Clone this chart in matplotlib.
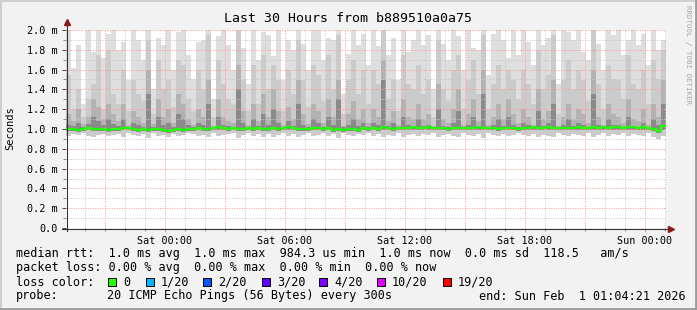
import matplotlib
matplotlib.use('Agg')
import matplotlib.pyplot as plt
from matplotlib.lines import Line2D
from matplotlib.patches import Rectangle
import numpy as np

plt.rcParams['font.family'] = ['DejaVu Sans Mono']

# time axis in hours relative to Sat 00:00, one column per 15 minutes
t_start = -4.93
col_hours = 0.25

# smoke layers (hundredths of a ms), 120 columns
smoke_top = [
    205, 162, 185, 125, 205, 178, 205, 172, 196, 205,
    180, 188, 150, 205, 190, 170, 205, 140, 192, 185,
    205, 160, 198, 205, 175, 150, 188, 190, 205, 130,
    194, 205, 185, 160, 205, 182, 145, 205, 170, 198,
    195, 174, 205, 150, 190, 180, 205, 186, 160, 205,
    205, 170, 192, 190, 205, 135, 176, 205, 185, 196,
    165, 205, 184, 205, 175, 192, 150, 205, 178, 190,
    205, 185, 195, 140, 205, 186, 170, 205, 194, 160,
    205, 182, 180, 205, 155, 196, 205, 190, 172, 205,
    175, 205, 188, 165, 205, 185, 192, 205, 145, 205,
    198, 190, 205, 178, 170, 205, 186, 160, 205, 195,
    205, 175, 190, 205, 185, 196, 165, 205, 180, 190,
]
smoke_mid = [
    155, 120, 140, 112, 130, 145, 175, 120, 180, 135,
    125, 160, 118, 150, 135, 128, 190, 115, 170, 140,
    150, 122, 170, 165, 130, 118, 160, 140, 195, 112,
    170, 145, 130, 125, 200, 150, 118, 165, 125, 175,
    140, 165, 150, 118, 160, 135, 190, 150, 122, 165,
    155, 128, 175, 140, 195, 115, 150, 170, 135, 160,
    125, 160, 145, 200, 130, 150, 118, 175, 145, 140,
    165, 135, 150, 112, 190, 140, 128, 160, 175, 120,
    150, 170, 135, 195, 120, 145, 165, 140, 160, 150,
    130, 160, 145, 125, 180, 140, 155, 195, 115, 150,
    170, 140, 160, 150, 128, 200, 145, 120, 165, 150,
    150, 130, 175, 145, 140, 160, 125, 170, 150, 180,
]
smoke_dark = [
    115, 108, 120, 105, 112, 130, 122, 110, 125, 115,
    108, 125, 104, 118, 112, 106, 160, 105, 130, 112,
    120, 106, 135, 125, 110, 104, 120, 112, 150, 103,
    130, 112, 108, 106, 165, 118, 104, 125, 108, 135,
    112, 140, 118, 104, 122, 110, 150, 115, 105, 125,
    118, 106, 130, 112, 150, 103, 115, 128, 110, 120,
    106, 120, 112, 170, 108, 118, 104, 130, 112, 110,
    125, 110, 115, 103, 145, 110, 106, 120, 140, 104,
    115, 130, 108, 160, 104, 112, 125, 110, 130, 115,
    106, 120, 112, 104, 140, 110, 118, 150, 103, 112,
    125, 110, 120, 115, 106, 160, 112, 104, 125, 115,
    112, 106, 130, 110, 108, 120, 104, 125, 112, 150,
]
smoke_darkest = [
    104, 103, 106, 102, 105, 112, 108, 104, 110, 105,
    103, 110, 102, 106, 104, 102, 135, 102, 112, 104,
    106, 102, 115, 110, 104, 102, 106, 104, 125, 102,
    112, 104, 103, 102, 140, 106, 102, 110, 103, 115,
    104, 120, 106, 102, 108, 103, 125, 104, 102, 110,
    106, 102, 112, 104, 130, 102, 104, 110, 103, 106,
    102, 106, 104, 150, 103, 106, 102, 112, 104, 103,
    110, 103, 104, 102, 120, 103, 102, 106, 118, 102,
    104, 112, 103, 135, 102, 104, 110, 103, 112, 104,
    102, 106, 104, 102, 118, 103, 106, 125, 102, 104,
    110, 103, 106, 104, 102, 135, 104, 102, 110, 104,
    104, 102, 112, 103, 102, 106, 102, 110, 104, 125,
]
smoke_low = [
    93, 95, 94, 96, 93, 92, 94, 95, 93, 94,
    95, 92, 96, 94, 93, 95, 91, 96, 93, 94,
    92, 95, 93, 94, 96, 95, 93, 94, 92, 96,
    93, 94, 95, 96, 91, 94, 96, 93, 95, 92,
    95, 92, 94, 96, 93, 95, 92, 94, 96, 93,
    94, 96, 93, 95, 91, 96, 94, 93, 95, 94,
    96, 93, 95, 92, 94, 93, 96, 92, 94, 95,
    93, 95, 94, 96, 92, 94, 95, 93, 92, 96,
    94, 93, 95, 91, 96, 94, 93, 95, 93, 94,
    96, 94, 93, 95, 92, 94, 93, 92, 96, 94,
    93, 95, 94, 93, 96, 92, 94, 96, 93, 95,
    94, 96, 93, 95, 94, 93, 96, 92, 90, 93,
]
smoke_low2 = [
    98, 98, 97, 98, 99, 98, 98, 98, 97, 98,
    98, 99, 99, 98, 97, 98, 97, 98, 98, 97,
    96, 97, 98, 97, 98, 98, 99, 98, 98, 99,
    99, 99, 98, 99, 98, 98, 99, 98, 99, 98,
    98, 99, 98, 99, 99, 99, 98, 98, 98, 99,
    99, 98, 99, 97, 98, 97, 98, 98, 97, 99,
    98, 99, 98, 99, 99, 98, 99, 99, 99, 99,
    99, 99, 99, 99, 99, 99, 98, 99, 99, 99,
    99, 99, 99, 99, 99, 99, 98, 99, 99, 99,
    98, 99, 99, 99, 99, 99, 99, 99, 99, 99,
    99, 99, 99, 99, 99, 99, 99, 99, 99, 99,
    99, 99, 99, 99, 99, 99, 99, 98, 96, 99,
]
median_rtt = [
    100, 100, 99, 100, 101, 100, 100, 100, 99, 100,
    100, 101, 101, 100, 99, 100, 99, 100, 100, 99,
    98, 99, 100, 99, 100, 100, 101, 100, 100, 101,
    102, 101, 100, 101, 100, 100, 101, 100, 101, 100,
    100, 101, 100, 101, 102, 101, 100, 100, 100, 101,
    101, 100, 101, 99, 100, 99, 100, 100, 99, 101,
    100, 101, 100, 102, 101, 100, 101, 101, 101, 102,
    101, 101, 102, 101, 101, 101, 100, 101, 101, 101,
    101, 101, 102, 101, 101, 101, 100, 101, 101, 101,
    100, 101, 101, 102, 101, 101, 102, 101, 101, 101,
    101, 101, 102, 101, 101, 102, 101, 102, 101, 102,
    102, 101, 102, 102, 101, 102, 101, 100, 98, 103,
]

tick_hours = [0, 6, 12, 18, 24]
tick_labels = ['Sat 00:00', 'Sat 06:00', 'Sat 12:00', 'Sat 18:00', 'Sun 00:00']
y_ticks = [0.0, 0.2, 0.4, 0.6, 0.8, 1.0, 1.2, 1.4, 1.6, 1.8, 2.0]
y_labels = ['0.0', '0.2 m', '0.4 m', '0.6 m', '0.8 m', '1.0 m', '1.2 m',
            '1.4 m', '1.6 m', '1.8 m', '2.0 m']

legend_rtt = 'median rtt:  1.0 ms avg  1.0 ms max  984.3 us min  1.0 ms now  0.0 ms sd  118.5   am/s'
legend_loss = 'packet loss: 0.00 % avg  0.00 % max  0.00 % min  0.00 % now'
loss_labels = ['0', '1/20', '2/20', '3/20', '4/20', '10/20', '19/20']
loss_colors = ['#26ff00', '#00b8ff', '#0059ff', '#5e00ff', '#7e00ff', '#dd00ff', '#ff0000']
probe_text = '20 ICMP Echo Pings (56 Bytes) every 300s'
end_text = 'end: Sun Feb  1 01:04:21 2026'

W, H = 697, 310
fig = plt.figure(figsize=(W / 100, H / 100), dpi=100)
fig.patch.set_facecolor('#f2f2f2')


def fx(px):
    return px / W


def fy(py):
    return 1 - py / H


ax = fig.add_axes([fx(66), fy(228), fx(666) - fx(66), fy(30) - fy(228)])
ax.set_facecolor('white')

n = len(smoke_top)
x = t_start + np.arange(n) * col_hours
top = np.array(smoke_top) / 100
mid = np.array(smoke_mid) / 100
dark = np.array(smoke_dark) / 100
darkest = np.array(smoke_darkest) / 100
low = np.array(smoke_low) / 100
low2 = np.array(smoke_low2) / 100
med = np.array(median_rtt) / 100

ax.bar(x, top - low, bottom=low, width=col_hours, align='edge', color='#dedede', linewidth=0, zorder=1)
ax.bar(x, mid - low, bottom=low, width=col_hours, align='edge', color='#cbcbcb', linewidth=0, zorder=1.1)
ax.bar(x, dark - low2, bottom=low2, width=col_hours, align='edge', color='#b2b2b2', linewidth=0, zorder=1.2)
ax.bar(x, darkest - low2, bottom=low2, width=col_hours, align='edge', color='#8a8a8a', linewidth=0, zorder=1.3)
ax.step(np.append(x, x[-1] + col_hours), np.append(med, med[-1]), where='post',
        color='#22ff00', linewidth=1.6, zorder=4)

ax.set_xlim(t_start, t_start + n * col_hours)
ax.set_ylim(0, 2.0)
ax.set_xticks(tick_hours)
ax.set_xticklabels(tick_labels)
ax.set_xticks(np.arange(-4, 26, 1), minor=True)
ax.set_yticks(y_ticks)
ax.set_yticklabels(y_labels)
ax.set_yticks(np.arange(0.1, 2.0, 0.2), minor=True)

for s in ['top', 'right', 'left', 'bottom']:
    ax.spines[s].set_visible(False)

# major red grid every 3 hours / 0.2 ms, minor gray every hour / 0.1 ms
for h in np.arange(-4, 26, 1):
    if h % 3 == 0:
        ax.axvline(h, color='#ff9a9a', linewidth=0.72, linestyle=(0, (1, 1.4)), zorder=3)
    else:
        ax.axvline(h, color='#c8c8c8', linewidth=0.72, linestyle=(0, (1, 1.4)), zorder=3)
for v in np.arange(0.1, 2.01, 0.1):
    if round(v * 10) % 2 == 0:
        ax.axhline(v, color='#ff9a9a', linewidth=0.72, linestyle=(0, (1, 1.4)), zorder=3)
    else:
        ax.axhline(v, color='#c8c8c8', linewidth=0.72, linestyle=(0, (1, 1.4)), zorder=3)

ax.tick_params(axis='both', which='major', length=3, width=0.7, color='#444444',
               labelsize=7.3, pad=3)
ax.tick_params(axis='both', which='minor', length=2, width=0.7, color='#888888')
ax.tick_params(axis='x', which='major', colors='#ff8080', labelcolor='black', length=3)

# axes lines with arrows
fig.add_artist(Line2D([fx(66.5), fx(66.5)], [fy(231), fy(24)], color='#333333', linewidth=0.8))
fig.add_artist(Line2D([fx(62), fx(668)], [fy(228.5), fy(228.5)], color='#333333', linewidth=0.8))
fig.add_artist(Line2D([fx(66.5)], [fy(22)], marker='^', markersize=4, color='#8b1a1a', linewidth=0))
fig.add_artist(Line2D([fx(671)], [fy(228.5)], marker='>', markersize=4, color='#8b1a1a', linewidth=0))

# title, y label, watermark
fig.text(fx(348), fy(19), 'Last 30 Hours from b889510a0a75', ha='center', va='center', fontsize=9.5)
fig.text(fx(10), fy(128), 'Seconds', rotation=90, ha='center', va='center', fontsize=7.5)
fig.text(fx(688), fy(5), 'RRDTOOL / TOBI OETIKER', rotation=270, ha='center', va='top',
         fontsize=5.4, color='#a8a8a8')

# legend block
fs = 8.5
fig.text(fx(16), fy(254), legend_rtt, ha='left', va='center', fontsize=fs)
fig.text(fx(16), fy(268), legend_loss, ha='left', va='center', fontsize=fs)
fig.text(fx(16), fy(282), 'loss color:', ha='left', va='center', fontsize=fs)
box_x = [108, 146, 203, 262, 319, 377, 443]
for bx, lab, col in zip(box_x, loss_labels, loss_colors):
    fig.add_artist(Rectangle((fx(bx), fy(286)), fx(8), 8 / H, facecolor=col,
                             edgecolor='black', linewidth=0.7))
    fig.text(fx(bx + 15), fy(282), lab, ha='left', va='center', fontsize=fs)
fig.text(fx(16), fy(296), 'probe:', ha='left', va='center', fontsize=fs)
fig.text(fx(107), fy(296), probe_text, ha='left', va='center', fontsize=fs)
fig.text(fx(479), fy(296), end_text, ha='left', va='center', fontsize=fs)

# 3d frame around the image
fig.add_artist(Line2D([0, 1], [fy(0.5), fy(0.5)], color='#cfcfcf', linewidth=1.4))
fig.add_artist(Line2D([fx(0.5), fx(0.5)], [0, 1], color='#cfcfcf', linewidth=1.4))
fig.add_artist(Line2D([0, 1], [fy(309), fy(309)], color='#9c9c9c', linewidth=2))
fig.add_artist(Line2D([fx(696), fx(696)], [0, 1], color='#9c9c9c', linewidth=2))

fig.savefig('out.png', dpi=100, facecolor=fig.get_facecolor())
